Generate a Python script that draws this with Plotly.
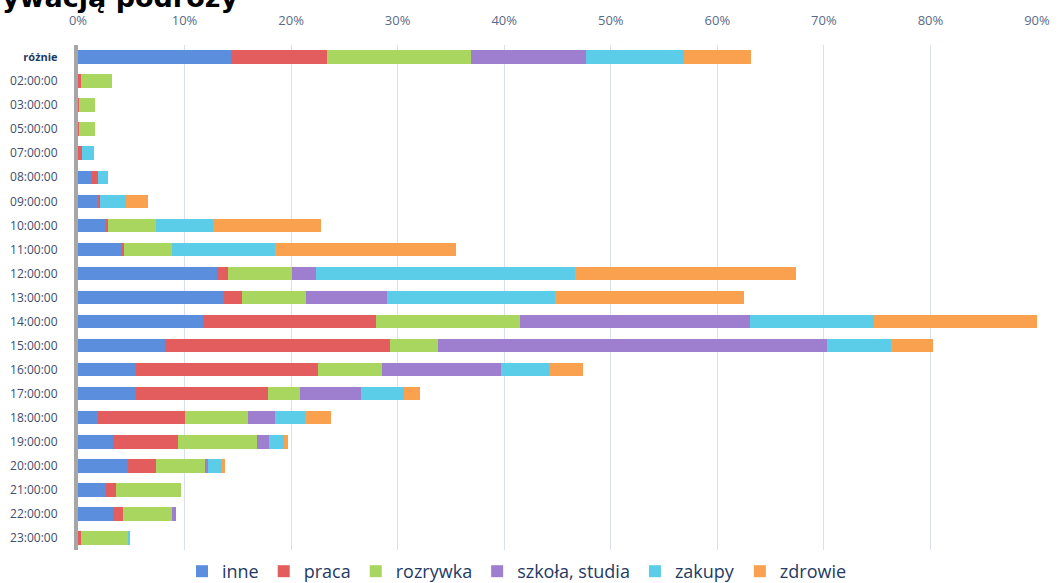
import plotly.graph_objects as go

categories = ["różnie", "02:00:00", "03:00:00", "05:00:00", "07:00:00", "08:00:00", "09:00:00",
              "10:00:00", "11:00:00", "12:00:00", "13:00:00", "14:00:00", "15:00:00", "16:00:00",
              "17:00:00", "18:00:00", "19:00:00", "20:00:00", "21:00:00", "22:00:00", "23:00:00"]

inne     = [14.4, 0.0, 0.0, 0.0, 0.0, 1.3, 1.9, 2.7, 4.1, 13.0, 13.7, 11.7, 8.2, 5.4, 5.4, 1.9, 3.3, 4.7, 2.6, 3.3, 0.0]
praca    = [9.0, 0.3, 0.1, 0.1, 0.4, 0.6, 0.2, 0.1, 0.2, 1.1, 1.7, 16.3, 21.1, 17.1, 12.4, 8.1, 6.1, 2.6, 1.0, 0.9, 0.3]
rozrywka = [13.5, 2.9, 1.5, 1.5, 0.0, 0.0, 0.0, 4.5, 4.5, 6.0, 6.0, 13.5, 4.5, 6.0, 3.0, 6.0, 7.4, 4.6, 6.1, 4.6, 4.4]
szkola   = [10.8, 0.0, 0.0, 0.0, 0.0, 0.0, 0.0, 0.0, 0.0, 2.2, 7.6, 21.6, 36.5, 11.2, 5.8, 2.5, 1.1, 0.3, 0.0, 0.4, 0.0]
zakupy   = [9.2, 0.0, 0.0, 0.0, 1.1, 0.9, 2.4, 5.4, 9.7, 24.3, 15.8, 11.6, 6.0, 4.5, 4.0, 2.8, 1.4, 1.2, 0.0, 0.0, 0.2]
zdrowie  = [6.3, 0.0, 0.0, 0.0, 0.0, 0.0, 2.1, 10.1, 17.0, 20.8, 17.7, 15.4, 3.9, 3.2, 1.5, 2.4, 0.4, 0.4, 0.0, 0.0, 0.0]

series = [
    ("inne", inne, "#5B8FDD"),
    ("praca", praca, "#E35D5E"),
    ("rozrywka", rozrywka, "#A9D65E"),
    ("szkoła, studia", szkola, "#9E7FCF"),
    ("zakupy", zakupy, "#5BCDE8"),
    ("zdrowie", zdrowie, "#F9A14F"),
]

x_ticks = [0, 10, 20, 30, 40, 50, 60, 70, 80, 90]
x_ticklabels = [f"{v}%" for v in x_ticks]

fig = go.Figure()
for name, vals, color in series:
    fig.add_trace(go.Bar(
        y=categories, x=vals, name=name, orientation="h",
        marker=dict(color=color, line=dict(width=0)),
    ))

ticktext = ['<b><span style="font-size:11px;color:#1f3a66">różnie</span></b>'] + categories[1:]

fig.update_layout(
    width=1062, height=583,
    barmode="stack", bargap=0.44,
    paper_bgcolor="white", plot_bgcolor="white",
    margin=dict(l=78, r=25, t=45, b=33, autoexpand=False),
    font=dict(family="Open Sans", color="#55657f"),
    showlegend=True,
    legend=dict(orientation="h", x=(182 - 78) / 959, xanchor="left",
                y=-(553 - 550) / 505, yanchor="top",
                font=dict(size=18, color="#243a63"), traceorder="normal",
                itemwidth=30),
    xaxis=dict(side="top", range=[0, 90], tickvals=x_ticks, ticktext=x_ticklabels,
               showgrid=True, gridcolor="#d6e0ee", gridwidth=1, zeroline=False,
               tickfont=dict(size=13, color="#5a6a88"), ticks="", ticklabelstandoff=16,
               automargin=False, fixedrange=True),
    yaxis=dict(autorange="reversed", tickvals=categories, ticktext=ticktext,
               tickfont=dict(size=12, color="#3e4c6c"), showline=True,
               linecolor="#a6a6a6", linewidth=4, ticks="", ticklabelstandoff=14,
               showgrid=False, automargin=False),
    annotations=[dict(text="<b>ywacją podróży</b>", xref="paper", yref="paper",
                      x=-78 / 959, y=1 + (45 - 15) / 505, xanchor="left", yanchor="bottom",
                      showarrow=False, font=dict(family="DejaVu Sans", size=27, color="#000000"))],
)

fig.write_html("out.html", config={"displayModeBar": False},
               post_script="document.body.style.margin='0';")
